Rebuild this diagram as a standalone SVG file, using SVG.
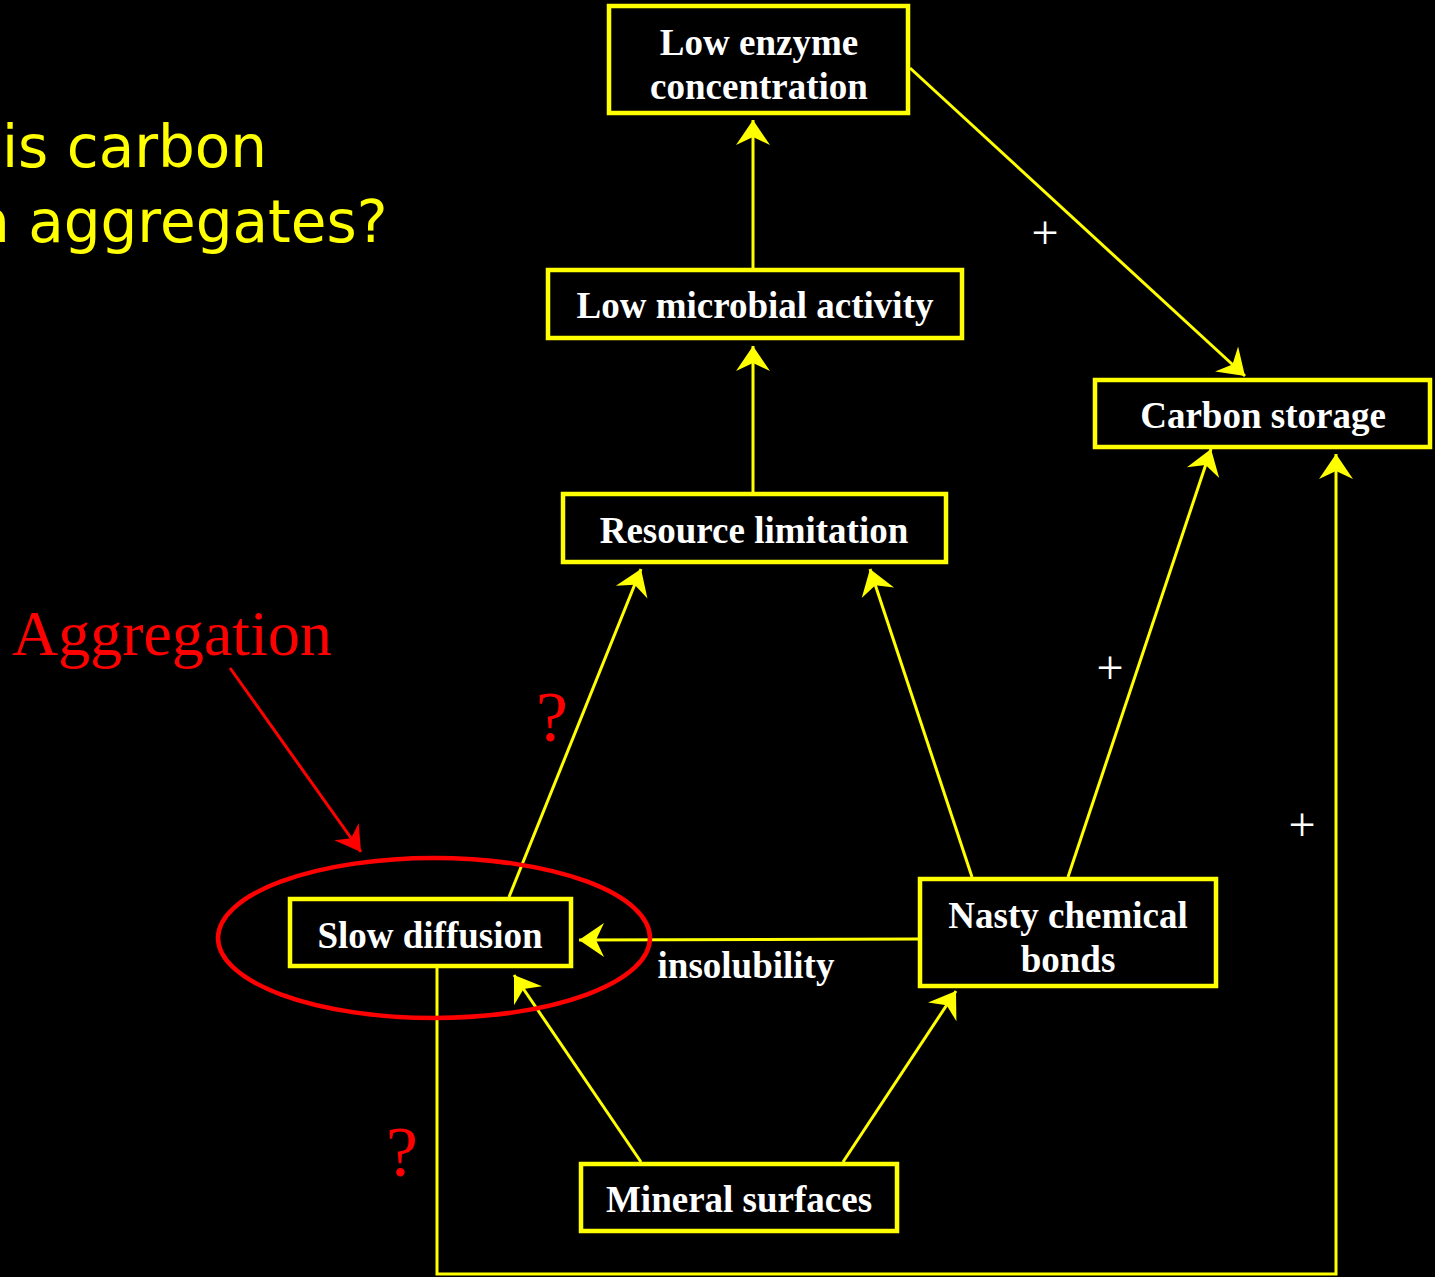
<svg xmlns="http://www.w3.org/2000/svg" width="1435" height="1277" viewBox="0 0 1435 1277">
<defs>
<style>
.box{fill:#000;stroke:#FFFF00;stroke-width:4.5}
.lbl{font-family:"Liberation Serif","Times New Roman",serif;font-weight:bold;font-size:37px;fill:#fff;text-anchor:middle}
.con{fill:none;stroke:#FFFF00;stroke-width:3}
.plus{font-family:"Liberation Serif","Times New Roman",serif;font-size:48px;fill:#fff;text-anchor:middle}
.q{font-family:"Liberation Serif","Times New Roman",serif;font-size:72px;fill:#FF0000;text-anchor:middle}
</style>
<marker id="ah" markerUnits="userSpaceOnUse" markerWidth="40" markerHeight="40" viewBox="-26 -20 28 40" refX="0" refY="0" orient="auto">
<path d="M0 0 L-25 -17 L-17 0 L-25 17 Z" fill="#FFFF00"/>
</marker>
<marker id="ahr" markerUnits="userSpaceOnUse" markerWidth="40" markerHeight="40" viewBox="-26 -20 28 40" refX="0" refY="0" orient="auto">
<path d="M0 0 L-25 -15 L-17 0 L-25 15 Z" fill="#FF0000"/>
</marker>
</defs>
<rect width="1435" height="1277" fill="#000"/>
<g id="title" font-family="'DejaVu Sans',Verdana,sans-serif" font-size="58" fill="#FFFF00">
<text x="2" y="167">is carbon</text>
<text x="-27" y="242">n aggregates?</text>
</g>
<g id="connectors">
<line class="con" x1="753" y1="268" x2="753" y2="120" marker-end="url(#ah)"/>
<line class="con" x1="753" y1="492" x2="753" y2="346" marker-end="url(#ah)"/>
<line class="con" x1="910" y1="68" x2="1245" y2="376" marker-end="url(#ah)"/>
<line class="con" x1="509" y1="897" x2="641" y2="569" marker-end="url(#ah)"/>
<line class="con" x1="972" y1="877" x2="870" y2="569" marker-end="url(#ah)"/>
<line class="con" x1="1068" y1="877" x2="1211" y2="449" marker-end="url(#ah)"/>
<line class="con" x1="918" y1="939" x2="579" y2="940" marker-end="url(#ah)"/>
<line class="con" x1="641" y1="1162" x2="514" y2="975" marker-end="url(#ah)"/>
<line class="con" x1="843" y1="1162" x2="956" y2="991" marker-end="url(#ah)"/>
<polyline class="con" points="437,968 437,1274 1336,1274 1336,454" marker-end="url(#ah)"/>
<line x1="230" y1="668" x2="361" y2="852" stroke="#FF0000" stroke-width="3" marker-end="url(#ahr)"/>
</g>
<g id="aggregation">
<ellipse cx="434" cy="938" rx="216" ry="80" fill="none" stroke="#FF0000" stroke-width="4.5"/>
<text x="12" y="655" font-family="'Liberation Serif','Times New Roman',serif" font-size="64" fill="#FF0000">Aggregation</text>
</g>
<g id="n-enzyme"><rect class="box" x="609" y="6" width="299" height="107"/><text class="lbl" x="759" y="55">Low enzyme</text><text class="lbl" x="759" y="99">concentration</text></g>
<g id="n-microbial"><rect class="box" x="548" y="270" width="414" height="68"/><text class="lbl" x="755" y="318">Low microbial activity</text></g>
<g id="n-carbon"><rect class="box" x="1095" y="380" width="335" height="67"/><text class="lbl" x="1263" y="428">Carbon storage</text></g>
<g id="n-resource"><rect class="box" x="563" y="494" width="383" height="68"/><text class="lbl" x="754" y="543">Resource limitation</text></g>
<g id="n-slow"><rect class="box" x="290" y="899" width="281" height="67"/><text class="lbl" x="430" y="948">Slow diffusion</text></g>
<g id="n-nasty"><rect class="box" x="920" y="879" width="296" height="107"/><text class="lbl" x="1068" y="928">Nasty chemical</text><text class="lbl" x="1068" y="972">bonds</text></g>
<g id="n-mineral"><rect class="box" x="581" y="1164" width="316" height="67"/><text class="lbl" x="739" y="1212">Mineral surfaces</text></g>
<g id="labels">
<text class="plus" x="1045" y="249">+</text>
<text class="plus" x="1110" y="684">+</text>
<text class="plus" x="1302" y="841">+</text>
<text class="lbl" x="746" y="978">insolubility</text>
<text class="q" x="552" y="741">?</text>
<text class="q" x="402" y="1176">?</text>
</g>
</svg>
